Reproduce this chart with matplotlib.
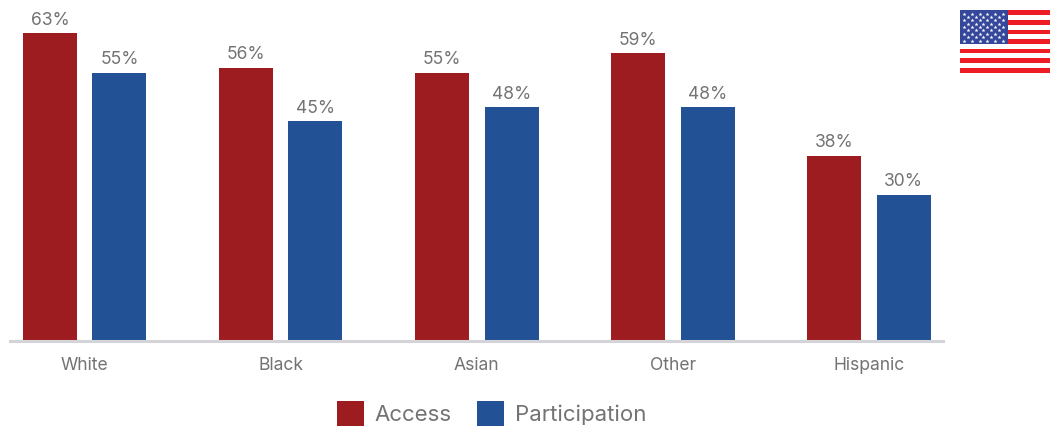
import numpy as np
import matplotlib
matplotlib.use("Agg")
import matplotlib.pyplot as plt
from matplotlib.patches import Rectangle

categories = ["White", "Black", "Asian", "Other", "Hispanic"]
access = [63, 56, 55, 59, 38]
participation = [55, 45, 48, 48, 30]

W, H = 1050, 426
RED, BLUE, GREY, AXIS = "#9C1C20", "#225295", "#737373", "#D4D4D8"
plt.rcParams["font.family"] = ["Inter", "DejaVu Sans"]

fig = plt.figure(figsize=(W / 100, H / 100), dpi=100)
ax = fig.add_axes([10 / W, (H - 341) / H, 933 / W, 320 / H])
x = np.arange(len(categories))
bar_w, off = 0.2754, 0.177
b1 = ax.bar(x - off, access, bar_w, color=RED, label="Access")
b2 = ax.bar(x + off, participation, bar_w, color=BLUE, label="Participation")
for bars in (b1, b2):
    ax.bar_label(bars, fmt="%d%%", padding=3, color=GREY, fontsize=12.6)

ax.set_xlim(-0.381, 4.3775)
ax.set_ylim(0, 320 / 4.881)
ax.set_xticks(x, categories, fontsize=12.6, color=GREY)
ax.set_yticks([])
ax.tick_params(axis="x", length=0, pad=11.3)
for s in ("top", "left", "right"):
    ax.spines[s].set_visible(False)
ax.spines["bottom"].set_color(AXIS)
ax.spines["bottom"].set_linewidth(2.2)
ax.patch.set_alpha(0)

fs = 16
fig.legend(handles=[b1, b2], loc="lower center", bbox_to_anchor=(491.5 / W, 0), ncol=2,
           frameon=False, labelcolor=GREY, borderpad=0, borderaxespad=0,
           handlelength=19.4 / fs, handleheight=21.5 / fs, handletextpad=0.48,
           columnspacing=1.15, prop={"size": fs})

# flag decoration, pixel coordinates
fa = fig.add_axes([960 / W, (H - 73) / H, 90 / W, 63 / H])
fa.set_xlim(960, 1050)
fa.set_ylim(73, 10)
fa.axis("off")
h = 4.8
for i in range(13):
    fa.add_patch(Rectangle((960, 10.3 + i * h), 90, h, color="#EE1C25" if i % 2 == 0 else "white", lw=0))
fa.add_patch(Rectangle((960, 10), 48, 34, color="#34479B", lw=0, zorder=2))
sx, sy = [], []
for r in range(9):
    cols = 6 if r % 2 == 0 else 5
    for c in range(cols):
        sx.append(964 + c * 7.8 + (0 if r % 2 == 0 else 3.9))
        sy.append(13.7 + r * 3.35)
fa.scatter(sx, sy, s=9, marker="*", color="white", lw=0, zorder=3)

fig.savefig("out.png", dpi=100)
